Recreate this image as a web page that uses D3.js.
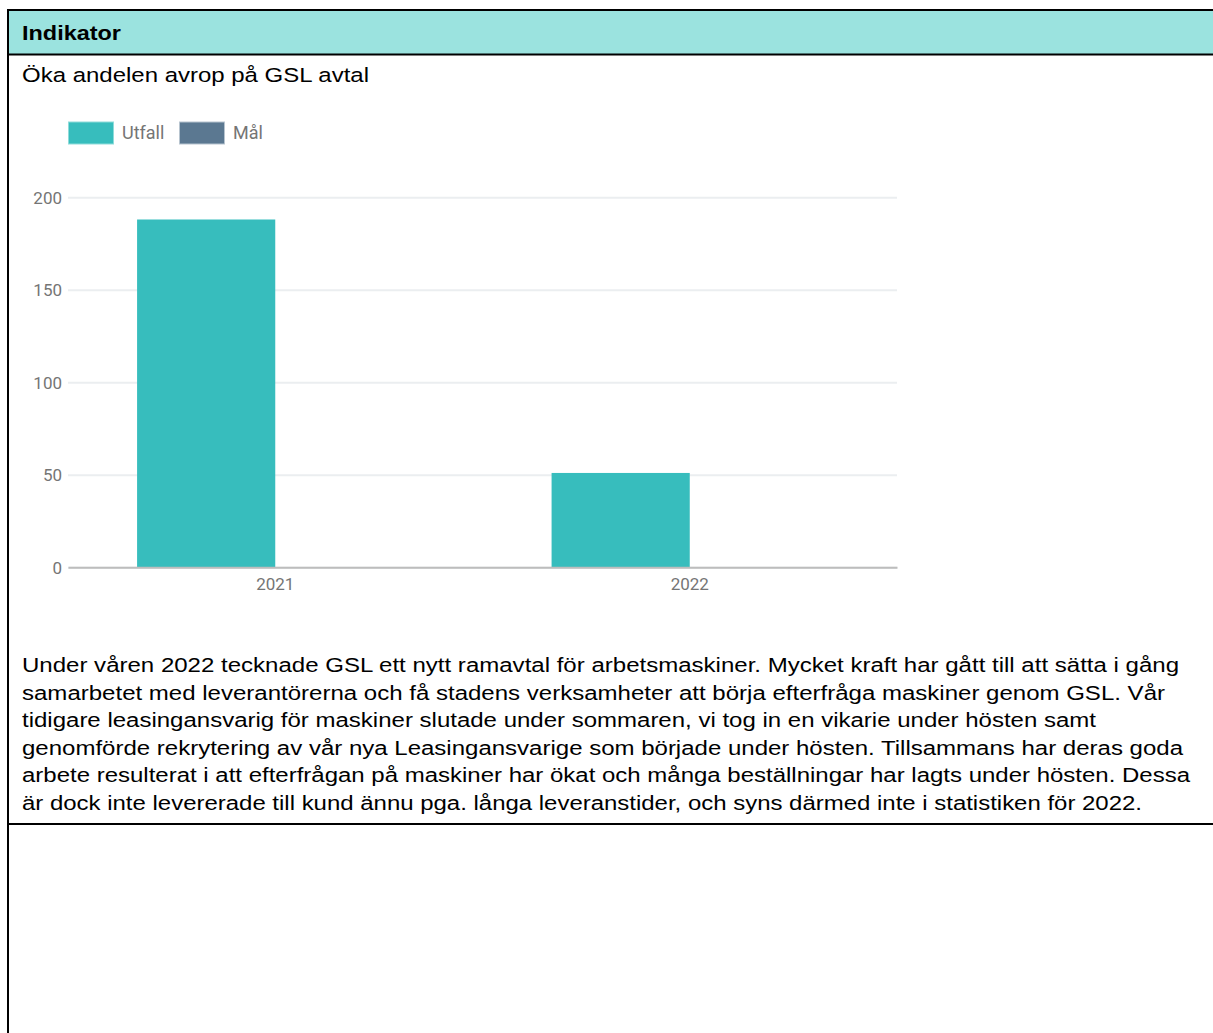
<!DOCTYPE html>
<html>
<head>
<meta charset="utf-8">
<script src="https://cdn.jsdelivr.net/npm/d3@7"></script>
<style>
html,body{margin:0;padding:0;background:#fff;overflow:hidden;}
svg{display:block;}
</style>
</head>
<body>
<svg id="page" width="1213" height="1033"></svg>
<script>
// ---- data ----
const categories = ["2021", "2022"];
const seriesNames = ["Utfall", "Mål"];
const utfall = [188, 51];
const mal = [null, null];
const yTicks = [0, 50, 100, 150, 200];
const seriesColors = ["#37bdbd", "#5b7891"];
const headerText = "Indikator";
const titleText = "Öka andelen avrop på GSL avtal";
const paragraphLines = [
  "Under våren 2022 tecknade GSL ett nytt ramavtal för arbetsmaskiner. Mycket kraft har gått till att sätta i gång",
  "samarbetet med leverantörerna och få stadens verksamheter att börja efterfråga maskiner genom GSL. Vår",
  "tidigare leasingansvarig för maskiner slutade under sommaren, vi tog in en vikarie under hösten samt",
  "genomförde rekrytering av vår nya Leasingansvarige som började under hösten. Tillsammans har deras goda",
  "arbete resulterat i att efterfrågan på maskiner har ökat och många beställningar har lagts under hösten. Dessa",
  "är dock inte levererade till kund ännu pga. långa leveranstider, och syns därmed inte i statistiken för 2022."
];
const paragraphEnds = [1179, 1165, 1096, 1183, 1190, 1142];

const svg = d3.select("#page");

// ---- table frame ----
svg.append("rect").attr("x", 9).attr("y", 11).attr("width", 1204).attr("height", 43).attr("fill", "#9be3df");
const frame = svg.append("g").attr("stroke", "#000").attr("stroke-width", 2);
frame.append("line").attr("x1", 7).attr("x2", 1213).attr("y1", 10).attr("y2", 10);
frame.append("line").attr("x1", 7).attr("x2", 1213).attr("y1", 54.5).attr("y2", 54.5);
frame.append("line").attr("x1", 7).attr("x2", 1213).attr("y1", 824).attr("y2", 824);
frame.append("line").attr("x1", 8).attr("x2", 8).attr("y1", 9).attr("y2", 1033);

svg.append("text").attr("x", 22).attr("y", 40)
  .attr("font-family", "Liberation Sans, Arial, sans-serif").attr("font-weight", "bold")
  .attr("font-size", 20.5).attr("fill", "#000")
  .attr("textLength", 99).attr("lengthAdjust", "spacingAndGlyphs")
  .text(headerText);

svg.append("text").attr("x", 22).attr("y", 81.5)
  .attr("font-family", "Liberation Sans, Arial, sans-serif")
  .attr("font-size", 20.5).attr("fill", "#000")
  .attr("textLength", 347).attr("lengthAdjust", "spacingAndGlyphs")
  .text(titleText);

svg.append("g").selectAll("text").data(paragraphLines).join("text")
  .attr("x", 22).attr("y", (d, i) => 672 + i * 27.6)
  .attr("font-family", "Liberation Sans, Arial, sans-serif")
  .attr("font-size", 20).attr("fill", "#000")
  .attr("textLength", (d, i) => paragraphEnds[i] - 22).attr("lengthAdjust", "spacingAndGlyphs")
  .text(d => d);

// ---- chart ----
const x0 = 68, x1 = 897, yBase = 567.3, yTop = 197.3;
const y = d3.scaleLinear().domain([0, 200]).range([yBase, yTop]);
const x = d3.scaleBand().domain(categories).range([x0, x1]).padding(0);
const xs = d3.scaleBand().domain(seriesNames).range([0, x.bandwidth()]).paddingInner(0).paddingOuter(0.5);

const chart = svg.append("g");
const font = "Roboto, sans-serif";

// grid
const yAxis = d3.axisLeft(y).tickValues(yTicks).tickSize(-(x1 - x0)).tickPadding(6);
const gy = chart.append("g").attr("transform", `translate(${x0},0)`).call(yAxis);
gy.select(".domain").remove();
gy.selectAll(".tick line").attr("stroke", "#ebeef0").attr("stroke-width", 2);
gy.selectAll(".tick text").attr("font-family", font).attr("font-size", 17).attr("fill", "#757575").attr("dy", "0.34em");

// bars
const data = categories.map((c, i) => ({ cat: c, vals: [utfall[i], mal[i]] }));
const groups = chart.append("g").selectAll("g").data(data).join("g")
  .attr("transform", d => `translate(${x(d.cat)},0)`);
groups.selectAll("rect")
  .data(d => d.vals.map((v, j) => ({ s: seriesNames[j], v, c: seriesColors[j] })).filter(e => e.v != null))
  .join("rect")
  .attr("x", d => xs(d.s)).attr("width", xs.bandwidth())
  .attr("y", d => y(d.v)).attr("height", d => yBase - y(d.v))
  .attr("fill", d => d.c);

// x axis
const xAxis = d3.axisBottom(x).tickSize(0).tickPadding(11);
const gx = chart.append("g").attr("transform", `translate(0,${yBase})`).call(xAxis);
gx.select(".domain").attr("stroke", "#bdbdbd").attr("stroke-width", 2);
gx.selectAll(".tick text").attr("font-family", font).attr("font-size", 17).attr("fill", "#757575");

// legend
const legendX = [68, 179];
const leg = chart.append("g").selectAll("g").data(seriesNames).join("g")
  .attr("transform", (d, i) => `translate(${legendX[i]},121.5)`);
leg.append("rect").attr("x", 0.5).attr("y", 0.5).attr("width", 45).attr("height", 22)
  .attr("fill", (d, i) => seriesColors[i])
  .attr("stroke", (d, i) => i === 0 ? "#8fdcda" : "#b7c4cf").attr("stroke-width", 1);
leg.append("text").attr("x", 54).attr("y", 17)
  .attr("font-family", font).attr("font-size", 18).attr("fill", "#757575")
  .text(d => d);
</script>
</body>
</html>
